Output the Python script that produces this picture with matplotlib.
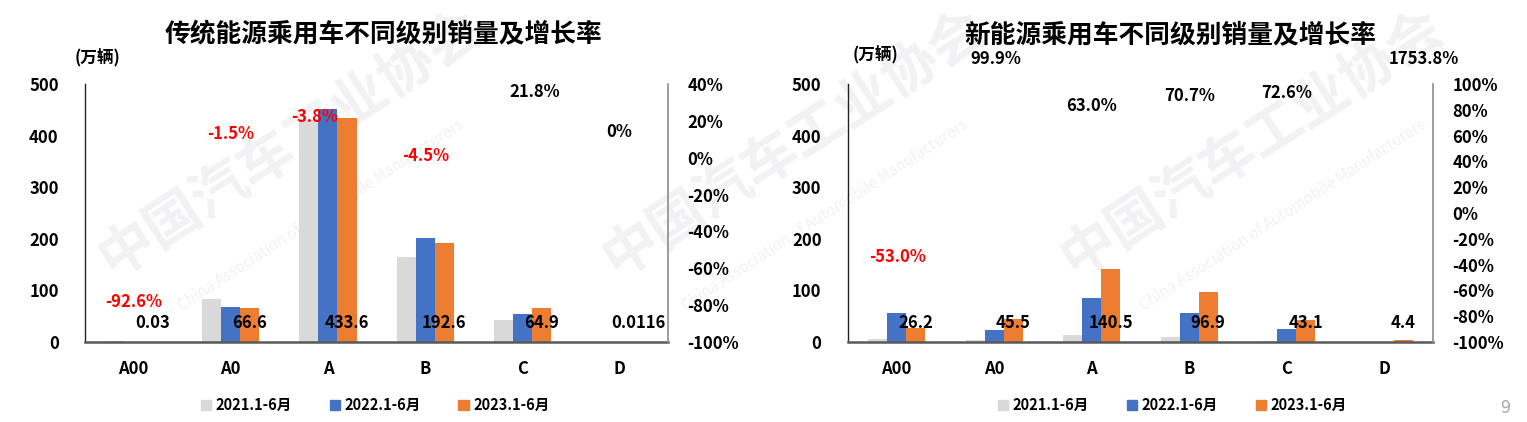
import matplotlib
matplotlib.use("Agg")
import matplotlib.pyplot as plt
import numpy as np
from matplotlib.patches import Patch
from matplotlib.ticker import FuncFormatter, MultipleLocator

plt.rcParams["font.family"] = ["Noto Sans CJK SC", "DejaVu Sans"]
plt.rcParams["font.weight"] = "bold"

categories = ["A00", "A0", "A", "B", "C", "D"]
series_names = ["2021.1-6月", "2022.1-6月", "2023.1-6月"]

# 传统能源 (万辆)
trad_2021 = [1.0, 83, 430, 165, 43, 0.01]
trad_2022 = [0.4, 67.6, 450.7, 201.7, 53.3, 0.0116]
trad_2023 = [0.03, 66.6, 433.6, 192.6, 64.9, 0.0116]
trad_labels = ["0.03", "66.6", "433.6", "192.6", "64.9", "0.0116"]
trad_growth = [-92.6, -1.5, -3.8, -4.5, 21.8, 0.0]
trad_growth_labels = ["-92.6%", "-1.5%", "-3.8%", "-4.5%", "21.8%", "0%"]

# 新能源 (万辆)
nev_2021 = [6, 4, 14, 9, 2.5, 0.1]
nev_2022 = [55.7, 22.8, 86.2, 56.8, 25.0, 0.24]
nev_2023 = [26.2, 45.5, 140.5, 96.9, 43.1, 4.4]
nev_labels = ["26.2", "45.5", "140.5", "96.9", "43.1", "4.4"]
nev_growth = [-53.0, 99.9, 63.0, 70.7, 72.6, 1753.8]
nev_growth_labels = ["-53.0%", "99.9%", "63.0%", "70.7%", "72.6%", "1753.8%"]

COLORS = ["#D9D9D9", "#4472C4", "#ED7D31"]
W = 0.196


def panel(rect, title, title_x, unit_x, unit_y, series, labels, growth, growth_labels,
          rlim, offsets, legend_x):
    ax = fig.add_axes(rect)
    ax.set_zorder(1)
    x = np.arange(len(categories))
    for k, vals in enumerate(series):
        ax.bar(x + (k - 1) * W, vals, W, color=COLORS[k], zorder=2)
    ax.set_xlim(-0.5, len(categories) - 0.5)
    ax.set_ylim(0, 500)
    ax.yaxis.set_major_locator(MultipleLocator(100))
    ax.set_xticks(x)
    ax.set_xticklabels(categories)
    ax.tick_params(axis="x", length=0, pad=13, labelsize=12)
    ax.tick_params(axis="y", length=0, pad=19, labelsize=12)
    ax.spines["top"].set_visible(False)
    ax.spines["right"].set_visible(False)
    ax.spines["left"].set_color("#222222")
    ax.spines["left"].set_linewidth(1.0)
    ax.spines["bottom"].set_color("#595959")
    ax.spines["bottom"].set_linewidth(1.8)
    ax.patch.set_alpha(0)

    # 2023 数值标签, 在橙色柱位置、靠近底部
    for i, t in enumerate(labels):
        ax.text(x[i] + W, 0.075, t, transform=ax.get_xaxis_transform(),
                ha="center", va="center", fontsize=12, fontweight="bold", zorder=5)

    ax2 = ax.twinx()
    ax2.set_zorder(2)
    ax2.set_ylim(*rlim)
    ax2.yaxis.set_major_locator(MultipleLocator(20))
    ax2.yaxis.set_major_formatter(FuncFormatter(lambda v, p: f"{v:.0f}%"))
    ax2.tick_params(axis="y", length=0, pad=14, labelsize=12)
    for s in ["top", "left", "bottom"]:
        ax2.spines[s].set_visible(False)
    ax2.spines["right"].set_color("#8c8c8c")
    ax2.spines["right"].set_linewidth(1.2)

    for i, (g, t) in enumerate(zip(growth, growth_labels)):
        dx, dy = offsets.get(i, (0, 26))
        ax2.annotate(t, xy=(x[i], min(g, rlim[1])), xytext=(dx, dy),
                     textcoords="offset pixels", ha="center", va="center",
                     fontsize=12, fontweight="bold",
                     color="#FF0000" if g < 0 else "black",
                     annotation_clip=False, zorder=6)

    fig.text(title_x, 0.918, title, ha="center", va="center", fontsize=18.5,
             fontweight="bold")
    fig.text(unit_x, unit_y, "(万辆)", ha="left", va="center", fontsize=12,
             fontweight="bold")

    handles = [Patch(color=c) for c in COLORS]
    fig.legend(handles, series_names, loc="center", bbox_to_anchor=(legend_x, 0.04),
               ncol=3, frameon=False, fontsize=10.5, handlelength=0.7,
               handleheight=0.7, handletextpad=0.3, columnspacing=2.6)
    return ax


fig = plt.figure(figsize=(15.27, 4.22), dpi=100)
fig.patch.set_facecolor("white")

# 水印 (很淡, 在图层最底)
for wx, wy in [(0.19, 0.66), (0.52, 0.66), (0.82, 0.66)]:
    fig.text(wx, wy, "中国汽车工业协会", rotation=33, fontsize=40, color="#F2F2F5",
             ha="center", va="center", zorder=-5)
    fig.text(wx + 0.02, wy - 0.17, "China Association of Automobile Manufacturers",
             rotation=33, fontsize=11, color="#F2F2F5", ha="center", va="center",
             fontweight="normal", zorder=-5)

panel([0.0557, 0.1896, 0.3818, 0.6114], "传统能源乘用车不同级别销量及增长率", 0.2512,
      0.049, 0.862, [trad_2021, trad_2022, trad_2023], trad_labels,
      trad_growth, trad_growth_labels, (-100, 40),
      {2: (-13, 48), 3: (1, 10), 4: (12, 26)}, 0.2456)

panel([0.5553, 0.1896, 0.3831, 0.6114], "新能源乘用车不同级别销量及增长率", 0.7662,
      0.5585, 0.869, [nev_2021, nev_2022, nev_2023], nev_labels,
      nev_growth, nev_growth_labels, (-100, 100),
      {0: (1, 24), 1: (2, 25), 5: (40, 25)}, 0.7676)

fig.text(0.9855, 0.033, "9", fontsize=13, color="#A6A6A6", fontweight="normal",
         ha="center", va="center")

fig.savefig("out.png", dpi=100)
